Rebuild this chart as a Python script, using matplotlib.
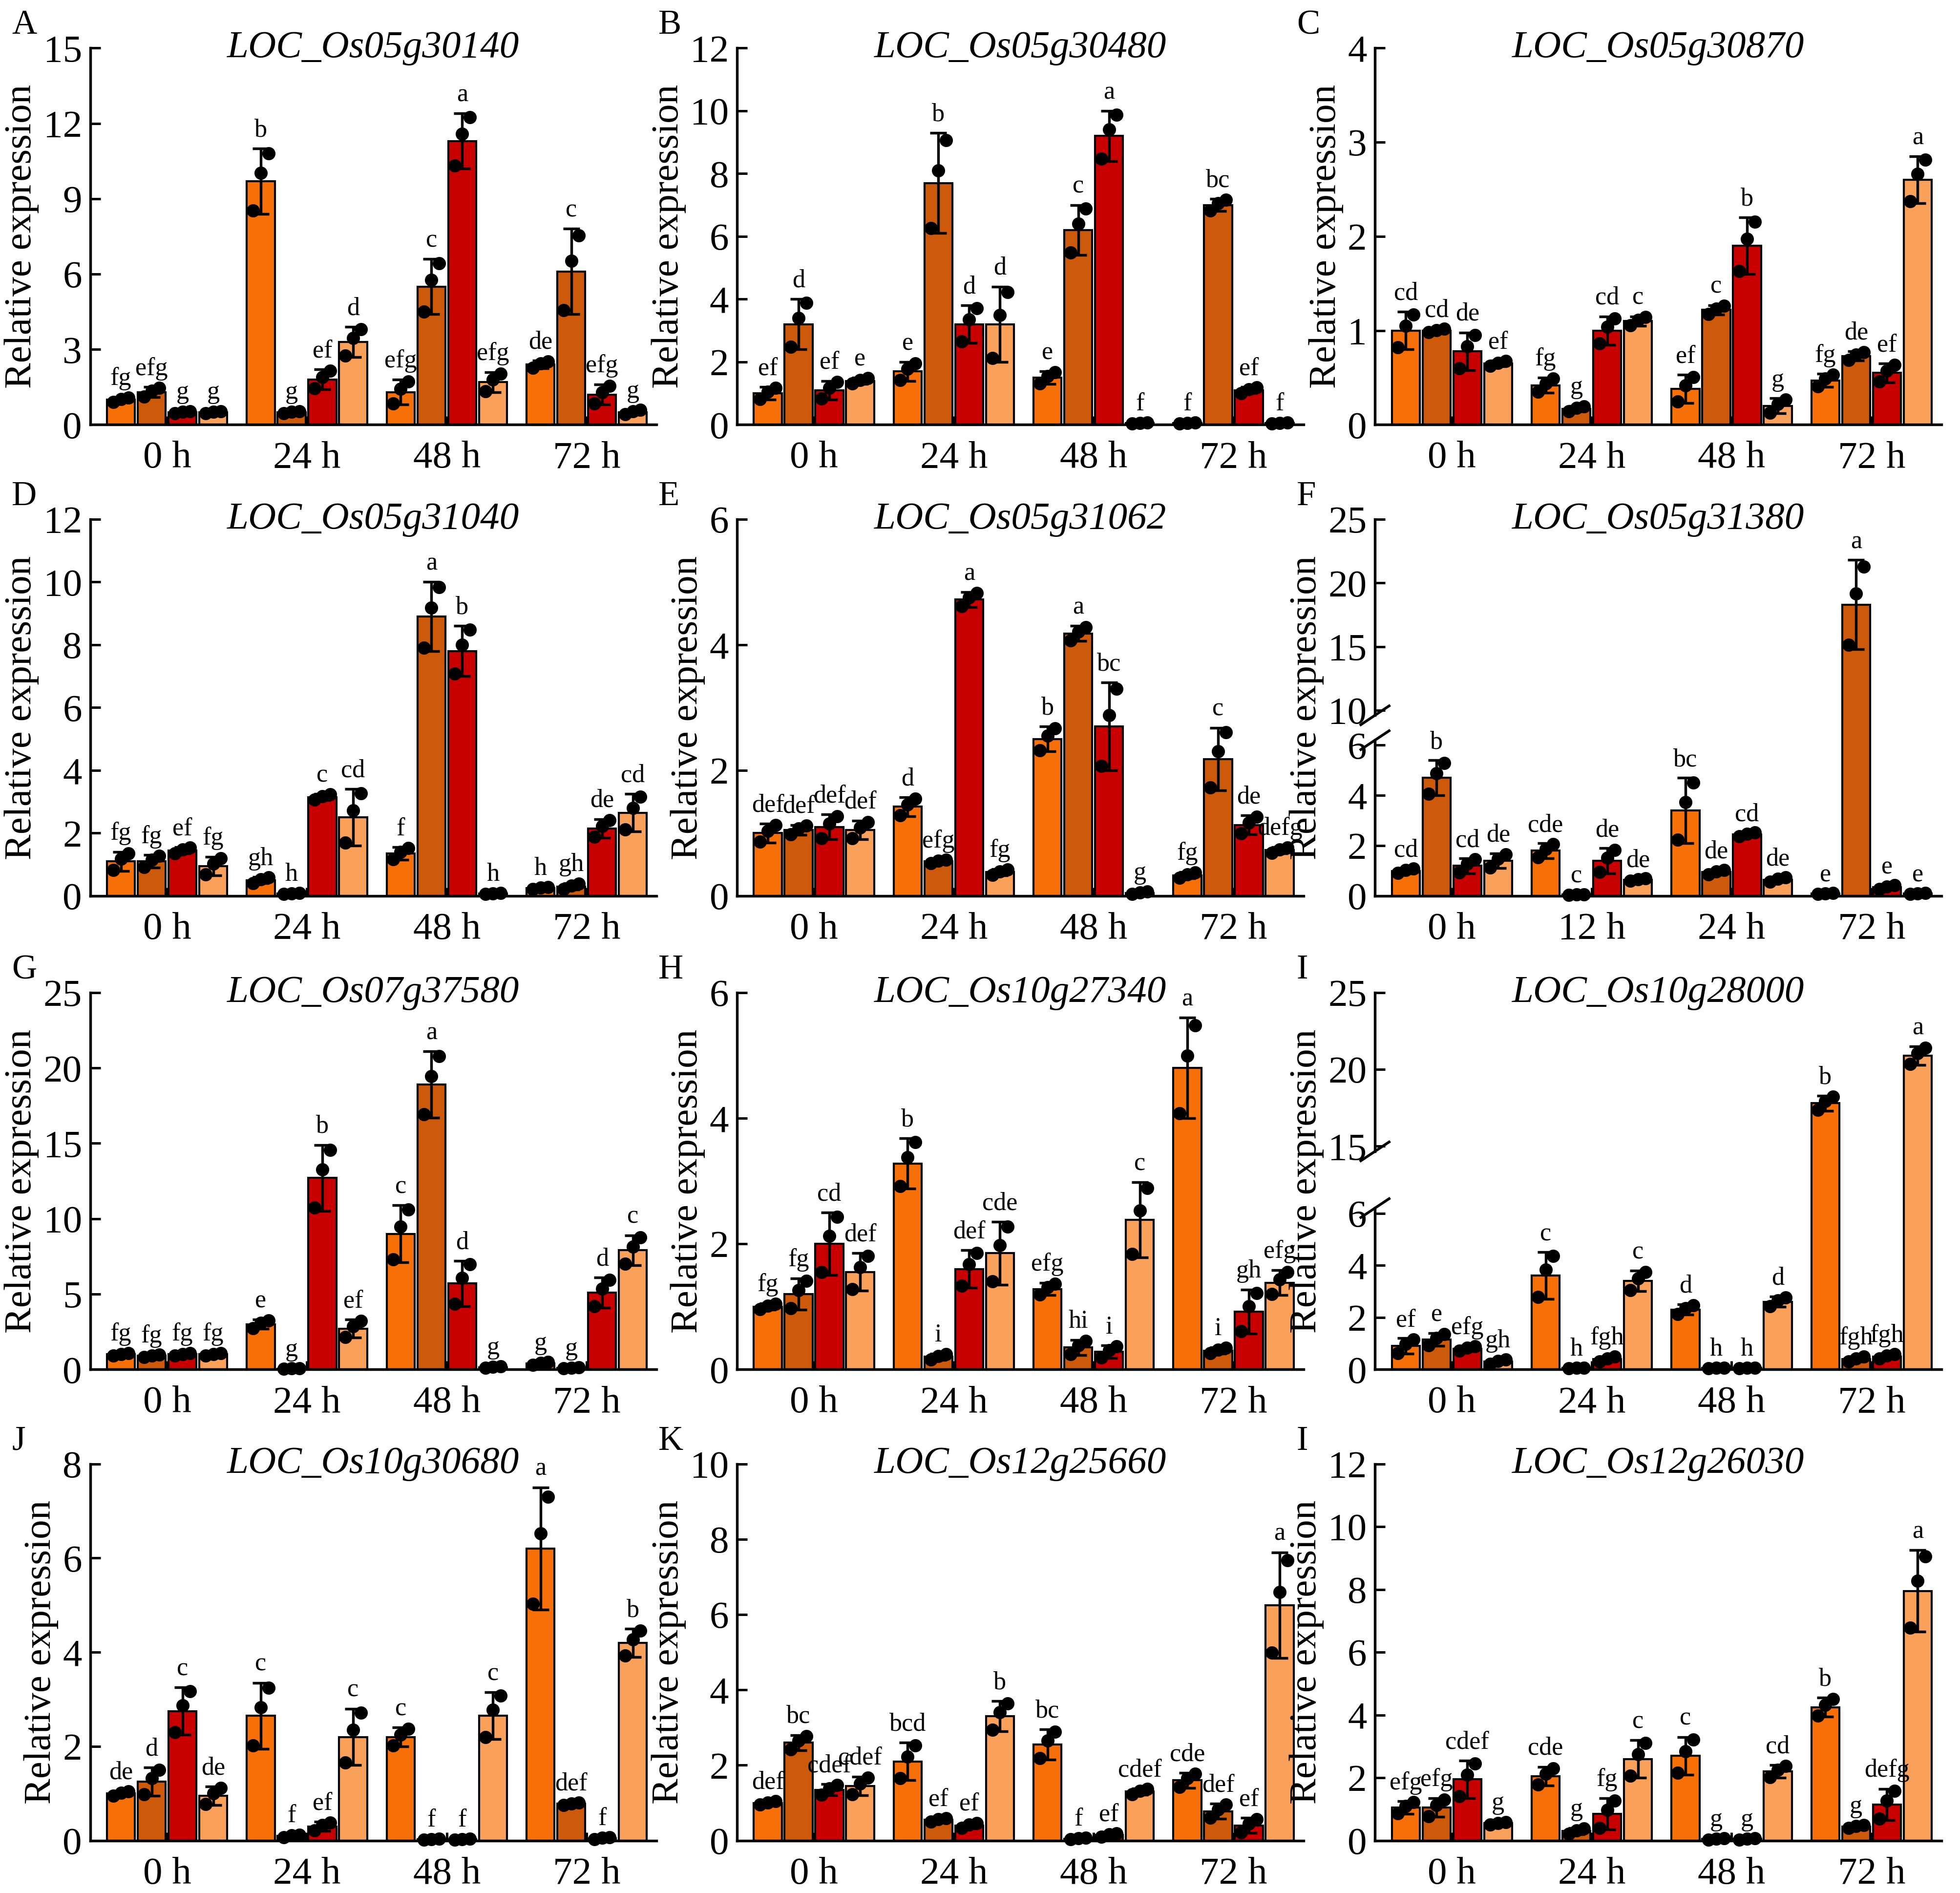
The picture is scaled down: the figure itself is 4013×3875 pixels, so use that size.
import numpy as np
import matplotlib
matplotlib.use("Agg")
import matplotlib.pyplot as plt
from matplotlib.scale import FuncScale

plt.rcParams['font.family'] = ['Liberation Serif', 'DejaVu Serif']

colors = ['#F76F07', '#CC5A0A', '#C80000', '#F9A05A']

titles = ['LOC_Os05g30140', 'LOC_Os05g30480', 'LOC_Os05g30870', 'LOC_Os05g31040',
          'LOC_Os05g31062', 'LOC_Os05g31380', 'LOC_Os07g37580', 'LOC_Os10g27340',
          'LOC_Os10g28000', 'LOC_Os10g30680', 'LOC_Os12g25660', 'LOC_Os12g26030']
panel_letters = ['A', 'B', 'C', 'D', 'E', 'F', 'G', 'H', 'I', 'J', 'K', 'I']
groups_std = ['0 h', '24 h', '48 h', '72 h']
groups_f = ['0 h', '12 h', '24 h', '72 h']

mean_A = [1.0, 1.3, 0.5, 0.5, 9.7, 0.5, 1.8, 3.3, 1.3, 5.5, 11.3, 1.7, 2.4, 6.1, 1.2, 0.5]
sd_A = [0.1, 0.2, 0.05, 0.05, 1.3, 0.05, 0.4, 0.6, 0.5, 1.1, 1.1, 0.4, 0.15, 1.7, 0.4, 0.1]
let_A = ['fg', 'efg', 'g', 'g', 'b', 'g', 'ef', 'd', 'efg', 'c', 'a', 'efg', 'de', 'c', 'efg', 'g']

mean_B = [1.0, 3.2, 1.1, 1.4, 1.7, 7.7, 3.2, 3.2, 1.5, 6.2, 9.2, 0.05, 0.05, 7.0, 1.1, 0.05]
sd_B = [0.2, 0.8, 0.3, 0.1, 0.3, 1.6, 0.6, 1.2, 0.2, 0.8, 0.8, 0.02, 0.02, 0.2, 0.1, 0.02]
let_B = ['ef', 'd', 'ef', 'e', 'e', 'b', 'd', 'd', 'e', 'c', 'a', 'f', 'f', 'bc', 'ef', 'f']

mean_C = [1.0, 1.0, 0.78, 0.65, 0.42, 0.17, 1.0, 1.1, 0.38, 1.22, 1.9, 0.2, 0.47, 0.73, 0.55, 2.6]
sd_C = [0.2, 0.02, 0.2, 0.03, 0.08, 0.03, 0.15, 0.05, 0.15, 0.05, 0.3, 0.08, 0.07, 0.05, 0.1, 0.25]
let_C = ['cd', 'cd', 'de', 'ef', 'fg', 'g', 'cd', 'c', 'ef', 'c', 'b', 'g', 'fg', 'de', 'ef', 'a']

mean_D = [1.1, 1.1, 1.45, 0.95, 0.5, 0.08, 3.15, 2.5, 1.35, 8.9, 7.8, 0.08, 0.25, 0.3, 2.15, 2.65]
sd_D = [0.3, 0.2, 0.1, 0.3, 0.1, 0.02, 0.1, 0.9, 0.2, 1.1, 0.8, 0.02, 0.03, 0.1, 0.3, 0.6]
let_D = ['fg', 'fg', 'ef', 'fg', 'gh', 'h', 'c', 'cd', 'f', 'a', 'b', 'h', 'h', 'gh', 'de', 'cd']

mean_E = [1.0, 1.05, 1.1, 1.05, 1.42, 0.55, 4.72, 0.38, 2.5, 4.18, 2.7, 0.05, 0.33, 2.18, 1.13, 0.73]
sd_E = [0.15, 0.08, 0.2, 0.15, 0.15, 0.03, 0.12, 0.05, 0.2, 0.12, 0.7, 0.02, 0.05, 0.5, 0.15, 0.05]
let_E = ['def', 'def', 'def', 'def', 'd', 'efg', 'a', 'fg', 'b', 'a', 'bc', 'g', 'fg', 'c', 'de', 'defg']

mean_F = [1.0, 4.7, 1.2, 1.4, 1.8, 0.05, 1.4, 0.65, 3.4, 0.95, 2.45, 0.65, 0.1, 18.3, 0.35, 0.1]
sd_F = [0.1, 0.7, 0.3, 0.3, 0.3, 0.02, 0.5, 0.05, 1.3, 0.1, 0.08, 0.1, 0.02, 3.5, 0.08, 0.02]
let_F = ['cd', 'b', 'cd', 'de', 'cde', 'c', 'de', 'de', 'bc', 'de', 'cd', 'de', 'e', 'a', 'e', 'e']

mean_G = [1.0, 0.9, 1.0, 1.0, 3.0, 0.05, 12.7, 2.7, 9.0, 18.9, 5.7, 0.15, 0.4, 0.1, 5.1, 7.9]
sd_G = [0.1, 0.1, 0.1, 0.1, 0.3, 0.02, 2.2, 0.6, 1.9, 2.2, 1.5, 0.05, 0.1, 0.05, 1.0, 1.0]
let_G = ['fg', 'fg', 'fg', 'fg', 'e', 'g', 'b', 'ef', 'c', 'a', 'd', 'g', 'g', 'g', 'd', 'c']

mean_H = [1.0, 1.2, 2.0, 1.55, 3.28, 0.2, 1.6, 1.85, 1.28, 0.35, 0.28, 2.38, 4.8, 0.3, 0.92, 1.38]
sd_H = [0.05, 0.25, 0.5, 0.3, 0.4, 0.05, 0.3, 0.5, 0.1, 0.12, 0.1, 0.6, 0.8, 0.05, 0.35, 0.2]
let_H = ['fg', 'fg', 'cd', 'def', 'b', 'i', 'def', 'cde', 'efg', 'hi', 'i', 'c', 'a', 'i', 'gh', 'efg']

mean_I = [0.9, 1.15, 0.8, 0.3, 3.6, 0.05, 0.4, 3.4, 2.3, 0.05, 0.05, 2.6, 17.8, 0.4, 0.5, 20.9]
sd_I = [0.3, 0.25, 0.1, 0.1, 0.9, 0.02, 0.1, 0.4, 0.2, 0.02, 0.02, 0.2, 0.5, 0.1, 0.1, 0.6]
let_I = ['ef', 'e', 'efg', 'gh', 'c', 'h', 'fgh', 'c', 'd', 'h', 'h', 'd', 'b', 'fgh', 'fgh', 'a']

mean_J = [1.0, 1.25, 2.75, 0.95, 2.65, 0.1, 0.3, 2.2, 2.2, 0.03, 0.03, 2.65, 6.2, 0.78, 0.05, 4.2]
sd_J = [0.05, 0.3, 0.5, 0.2, 0.7, 0.03, 0.1, 0.6, 0.2, 0.01, 0.01, 0.5, 1.3, 0.03, 0.02, 0.3]
let_J = ['de', 'd', 'c', 'de', 'c', 'f', 'ef', 'c', 'c', 'f', 'f', 'c', 'a', 'def', 'f', 'b']

mean_K = [1.0, 2.6, 1.35, 1.45, 2.1, 0.55, 0.4, 3.3, 2.55, 0.05, 0.15, 1.3, 1.6, 0.78, 0.4, 6.25]
sd_K = [0.05, 0.2, 0.15, 0.25, 0.5, 0.05, 0.08, 0.4, 0.4, 0.02, 0.05, 0.08, 0.2, 0.2, 0.2, 1.4]
let_K = ['def', 'bc', 'cdef', 'cdef', 'bcd', 'ef', 'ef', 'b', 'bc', 'f', 'ef', 'cdef', 'cde', 'def', 'ef', 'a']

mean_L = [1.05, 1.05, 1.95, 0.55, 2.05, 0.3, 0.85, 2.6, 2.7, 0.05, 0.05, 2.2, 4.25, 0.45, 1.15, 7.95]
sd_L = [0.2, 0.3, 0.6, 0.05, 0.3, 0.1, 0.5, 0.6, 0.6, 0.02, 0.02, 0.2, 0.3, 0.05, 0.5, 1.3]
let_L = ['efg', 'efg', 'cdef', 'g', 'cde', 'g', 'fg', 'c', 'c', 'g', 'g', 'cd', 'b', 'g', 'defg', 'a']

means = [mean_A, mean_B, mean_C, mean_D, mean_E, mean_F, mean_G, mean_H, mean_I, mean_J, mean_K, mean_L]
sds = [sd_A, sd_B, sd_C, sd_D, sd_E, sd_F, sd_G, sd_H, sd_I, sd_J, sd_K, sd_L]
lets = [let_A, let_B, let_C, let_D, let_E, let_F, let_G, let_H, let_I, let_J, let_K, let_L]
ymax = [15, 12, 4, 12, 6, 25, 25, 6, 25, 8, 10, 12]
ystep = [3, 2, 1, 2, 2, None, 5, 2, None, 2, 2, 2]
# broken axes: (lower top, upper start, gap in lower units, upper units per value)
breaks = {5: (6, 10, 1.39, 0.507), 8: (6, 15, 2.58, 0.59)}


def make_scale(lo, hi, gap, k):
    xs = np.array([-1000.0, lo, hi, 1000.0])
    ys = np.array([-1000.0, lo, lo + gap, lo + gap + (1000 - hi) * k])
    fwd = lambda v: np.interp(v, xs, ys)
    inv = lambda v: np.interp(v, ys, xs)
    return fwd, inv


fig = plt.figure(figsize=(13.377, 12.917), dpi=300)
lefts = [0.046, 0.376, 0.7015]
bottoms = [0.7756, 0.5267, 0.2766, 0.0277]
w, h = 0.289, 0.199
offs = np.array([-0.33, -0.11, 0.11, 0.33])
bw = 0.2
jit = np.array([-0.055, 0.0, 0.055])
rep = np.array([-0.9, 0.25, 0.85])

for i in range(12):
    r, c = divmod(i, 3)
    ax = fig.add_axes([lefts[c], bottoms[r], w, h])
    m = np.array(means[i]); s = np.array(sds[i])
    xpos = np.concatenate([g + offs for g in range(4)])
    cols = colors * 4
    fwd = None
    if i in breaks:
        fwd, inv = make_scale(*breaks[i])
        ax.set_yscale(FuncScale(ax, (fwd, inv)))
    ax.bar(xpos, m, width=bw, color=cols, edgecolor='black', linewidth=1.0, zorder=2)
    ax.errorbar(xpos, m, yerr=s, fmt='none', ecolor='black', elinewidth=1.3,
                capsize=4, capthick=1.3, zorder=3)
    for x0, mm, ss in zip(xpos, m, s):
        ax.plot(x0 + jit, np.maximum(mm + ss * rep, 0.01), 'o', color='black',
                ms=5.5, zorder=4, clip_on=False)
    for x0, mm, ss, lt in zip(xpos, m, s, lets[i]):
        top = mm + ss
        if fwd is not None:
            yv = inv(fwd(top) + 0.25)
        else:
            yv = top + ymax[i] * 0.018
        ax.text(x0, yv, lt, ha='center', va='bottom', fontsize=12.5)
    ax.set_xlim(-0.55, 3.5)
    ax.set_ylim(0, ymax[i])
    if i in breaks:
        lo, hi, gap, k = breaks[i]
        ticks = [0, 2, 4, 6] + list(range(hi, ymax[i] + 1, 5))
        ax.set_yticks(ticks)
        ax.set_yticklabels([str(t) for t in ticks])
        ax.yaxis.set_minor_locator(plt.NullLocator())
        total = fwd(ymax[i])
        ya, yb = (lo + 0.2) / total, (lo + gap - 0.2) / total
        ax.spines['left'].set_visible(False)
        ax.plot([0, 0], [0, ya], transform=ax.transAxes, color='black', lw=1.3, clip_on=False)
        ax.plot([0, 0], [yb, 1], transform=ax.transAxes, color='black', lw=1.3, clip_on=False)
        for yy in (ya, yb):
            ax.plot([-0.025, 0.025], [yy - 0.025, yy + 0.025], transform=ax.transAxes,
                    color='black', lw=1.3, clip_on=False)
    else:
        ax.set_yticks(np.arange(0, ymax[i] + 0.01, ystep[i]))
    ax.set_xticks(range(4))
    ax.set_xticklabels(groups_f if i == 5 else groups_std)
    ax.tick_params(axis='x', direction='in', length=4, width=1.2, labelsize=19, pad=8)
    ax.tick_params(axis='y', direction='in', length=5, width=1.2, labelsize=19, pad=4)
    for sp in ['top', 'right']:
        ax.spines[sp].set_visible(False)
    for sp in ['left', 'bottom']:
        ax.spines[sp].set_linewidth(1.3)
    ax.set_ylabel('Relative expression', fontsize=19, labelpad=2)
    ax.text(0.5, 1.0, titles[i], transform=ax.transAxes, ha='center', va='center',
            fontsize=19, style='italic')
    fig.text(lefts[c] - 0.04, bottoms[r] + h + 0.012, panel_letters[i], fontsize=17,
             ha='left', va='center')

fig.savefig('out.png', dpi=300)
